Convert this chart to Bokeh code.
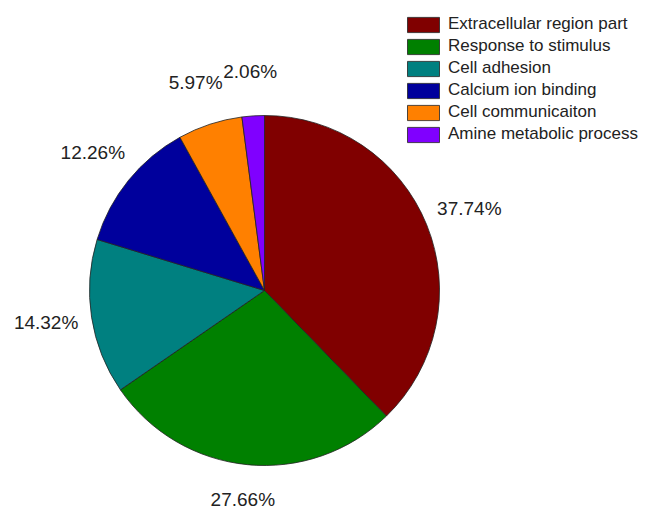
import numpy as np
from bokeh.plotting import figure
from bokeh.models import ColumnDataSource, Range1d, Legend, LegendItem
from bokeh.core.properties import value
from bokeh.embed import file_html
from bokeh.resources import INLINE

categories = ["Extracellular region part", "Response to stimulus", "Cell adhesion",
              "Calcium ion binding", "Cell communicaiton", "Amine metabolic process"]
percents = [37.74, 27.66, 14.32, 12.26, 5.97, 2.06]
colors = ["#800000", "#008000", "#008080", "#00009C", "#FF8000", "#8000FF"]
labels = ["37.74%", "27.66%", "14.32%", "12.26%", "5.97%", "2.06%"]

W, H = 645, 515
cx, cy, R = 264, 515 - 290, 175

vals = np.array(percents)
frac = vals / vals.sum()
cum = np.concatenate([[0], np.cumsum(frac)])
start = np.pi / 2 - 2 * np.pi * cum[:-1]
end = np.pi / 2 - 2 * np.pi * cum[1:]
mid = (start + end) / 2
lx = cx + (1.2 * R + 11) * np.cos(mid)
ly = cy + 1.2 * R * np.sin(mid) + 9 * np.clip(np.sin(mid), 0, None)

src = ColumnDataSource(dict(start=start, end=end, color=colors, cat=categories,
                            lx=lx, ly=ly, lab=labels))

p = figure(width=W, height=H, x_range=Range1d(0, W), y_range=Range1d(0, H),
           output_backend="svg", toolbar_location=None, min_border=0)
p.axis.visible = False
p.grid.visible = False
p.outline_line_color = None
p.background_fill_color = "white"

r = p.wedge(x=cx, y=cy, radius=R, start_angle="start", end_angle="end",
            direction="clock", fill_color="color", line_color="#222222",
            line_width=0.8, source=src)

p.text(x="lx", y="ly", text="lab", source=src, text_align="center",
       text_baseline="middle", text_font=value("Liberation Sans"),
       text_font_size="19px", text_color="#222222")

items = [LegendItem(label=c, renderers=[r], index=i) for i, c in enumerate(categories)]
legend = Legend(items=items, location=(403, 371), padding=0, margin=0, spacing=2,
                glyph_width=40, glyph_height=19, label_height=19, label_standoff=5,
                label_text_font="Liberation Sans", label_text_font_size="17px",
                label_text_color="#222222", border_line_alpha=0,
                background_fill_alpha=0)
p.add_layout(legend, "center")

open("out.html", "w").write(file_html(p, INLINE))
